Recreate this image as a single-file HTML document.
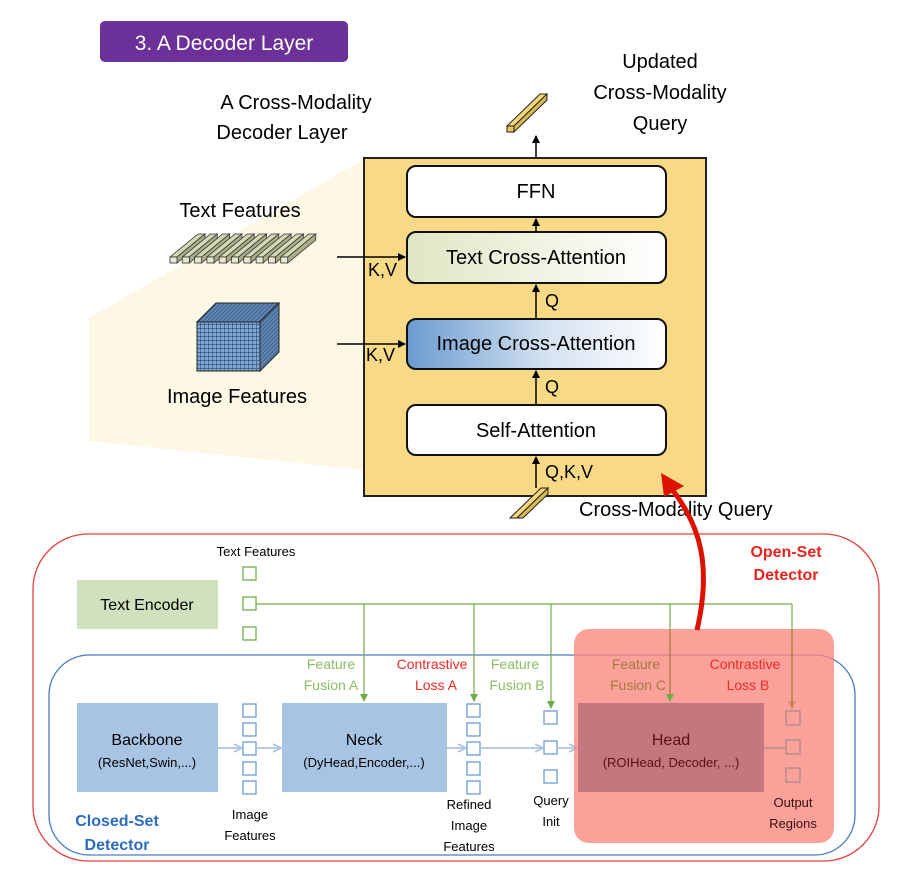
<!DOCTYPE html>
<html><head><meta charset="utf-8"><style>
body{margin:0;background:#fff;}
svg{display:block;font-family:"Liberation Sans",sans-serif;}
</style></head><body>
<svg width="912" height="876" viewBox="0 0 912 876" xmlns="http://www.w3.org/2000/svg">
<defs>
<linearGradient id="gt" x1="0" x2="1"><stop offset="0" stop-color="#dfe7c4"/><stop offset="1" stop-color="#fff"/></linearGradient>
<linearGradient id="gi" x1="0" x2="1"><stop offset="0" stop-color="#6a9bd0"/><stop offset="0.55" stop-color="#d6e3f1"/><stop offset="1" stop-color="#fff"/></linearGradient>
<pattern id="grid" width="4" height="4" patternUnits="userSpaceOnUse"><rect width="4" height="4" fill="#7ea7d6"/><path d="M0 0H4M0 0V4" stroke="#1f3550" stroke-width="1"/></pattern>
<pattern id="gridd" width="4" height="4" patternUnits="userSpaceOnUse" patternTransform="skewX(-45)"><rect width="4" height="4" fill="#5e86b4"/><path d="M0 0V4" stroke="#1f3550" stroke-width="1.2"/></pattern>
<marker id="ab" markerWidth="8" markerHeight="8" refX="7" refY="4" orient="auto" markerUnits="userSpaceOnUse"><path d="M0,0 L8,4 L0,8 z" fill="#000"/></marker>
<marker id="ag" markerWidth="8" markerHeight="8" refX="7" refY="4" orient="auto" markerUnits="userSpaceOnUse"><path d="M0,0 L8,4 L0,8 z" fill="#70ad47"/></marker>
<marker id="al" markerWidth="10" markerHeight="10" refX="9" refY="5" orient="auto" markerUnits="userSpaceOnUse"><path d="M1,1 L9,5 L1,9" fill="none" stroke="#a9c4e4" stroke-width="1.8"/></marker>
</defs>

<rect x="100" y="21" width="248" height="41" rx="5" fill="#6b3198"/>
<text x="224" y="50" font-size="21" fill="#fff" text-anchor="middle">3. A Decoder Layer</text>

<polygon points="89,318 364,159 364,470 89,441" fill="#fdf7e6"/>

<text x="296" y="109" font-size="20" text-anchor="middle">A Cross-Modality</text>
<text x="282" y="139" font-size="20" text-anchor="middle">Decoder Layer</text>
<text x="660" y="68" font-size="20" text-anchor="middle">Updated</text>
<text x="660" y="99" font-size="20" text-anchor="middle">Cross-Modality</text>
<text x="660" y="130" font-size="20" text-anchor="middle">Query</text>

<g stroke="#222" stroke-width="1" fill="#f3d77a">
<polygon points="507,126 540,94 547,94 514,126"/>
<polygon points="514,126 547,94 547,100 514,132" fill="#d9b950"/>
<rect x="507" y="126" width="7" height="6" fill="#e9c65a"/>
</g>
<line x1="536" y1="158" x2="536" y2="136" stroke="#000" stroke-width="1.5" marker-end="url(#ab)"/>

<rect x="364" y="158" width="342" height="338" fill="#f8da86" stroke="#222" stroke-width="2"/>
<rect x="407" y="166" width="259" height="51" rx="9" fill="#fff" stroke="#111" stroke-width="2"/>
<text x="536" y="198" font-size="20" text-anchor="middle">FFN</text>
<rect x="407" y="232" width="259" height="51" rx="9" fill="url(#gt)" stroke="#111" stroke-width="2"/>
<text x="536" y="264" font-size="20" text-anchor="middle">Text Cross-Attention</text>
<rect x="407" y="319" width="259" height="50" rx="9" fill="url(#gi)" stroke="#111" stroke-width="2"/>
<text x="536" y="350" font-size="20" text-anchor="middle">Image Cross-Attention</text>
<rect x="407" y="405" width="259" height="50" rx="9" fill="#fff" stroke="#111" stroke-width="2"/>
<text x="536" y="437" font-size="20" text-anchor="middle">Self-Attention</text>

<line x1="536" y1="232" x2="536" y2="219" stroke="#000" stroke-width="1.5" marker-end="url(#ab)"/>
<line x1="536" y1="319" x2="536" y2="285" stroke="#000" stroke-width="1.5" marker-end="url(#ab)"/>
<text x="545" y="307" font-size="18">Q</text>
<line x1="536" y1="405" x2="536" y2="371" stroke="#000" stroke-width="1.5" marker-end="url(#ab)"/>
<text x="545" y="393" font-size="18">Q</text>
<line x1="536" y1="488" x2="536" y2="457" stroke="#000" stroke-width="1.5" marker-end="url(#ab)"/>
<text x="545" y="478" font-size="18">Q,K,V</text>

<line x1="337" y1="257" x2="405" y2="257" stroke="#000" stroke-width="1.5" marker-end="url(#ab)"/>
<text x="368" y="276" font-size="18">K,V</text>
<line x1="337" y1="344" x2="405" y2="344" stroke="#000" stroke-width="1.5" marker-end="url(#ab)"/>
<text x="366" y="361" font-size="18">K,V</text>

<text x="240" y="217" font-size="20" text-anchor="middle">Text Features</text>
<g fill="#d4d8b4" stroke="#333" stroke-width="0.8">
<g id="tb"><polygon points="170,257 198,234 205,234 177,257"/><polygon points="177,257 205,234 205,240 177,263" fill="#a9ad88"/><rect x="170" y="257" width="7" height="6" fill="#e6e8d0"/></g>
<use href="#tb" x="12.3"/><use href="#tb" x="24.6"/><use href="#tb" x="36.9"/><use href="#tb" x="49.2"/><use href="#tb" x="61.5"/><use href="#tb" x="73.8"/><use href="#tb" x="86.1"/><use href="#tb" x="98.4"/><use href="#tb" x="110.7"/>
</g>

<polygon points="197,322 216,303 279,303 260,322" fill="url(#gridd)" stroke="#222"/>
<polygon points="260,322 279,303 279,352 260,371" fill="url(#gridd)" stroke="#222"/>
<rect x="197" y="322" width="63" height="49" fill="url(#grid)" stroke="#222"/>
<text x="237" y="403" font-size="20" text-anchor="middle">Image Features</text>

<g stroke="#222" stroke-width="1" fill="#f3d77a">
<polygon points="510,518 541,488 548,488 517,518"/>
<polygon points="517,518 548,488 548,494 523,518" fill="#d9b950"/>
</g>
<text x="579" y="516" font-size="20">Cross-Modality Query</text>

<rect x="33" y="534" width="846" height="327" rx="55" fill="none" stroke="#e8413b" stroke-width="1.3"/>
<text x="786" y="557" font-size="16" font-weight="bold" fill="#e8221c" text-anchor="middle">Open-Set</text>
<text x="786" y="580" font-size="16" font-weight="bold" fill="#e8221c" text-anchor="middle">Detector</text>

<rect x="49" y="655" width="806" height="200" rx="40" fill="none" stroke="#4a7cc0" stroke-width="1.3"/>
<text x="117" y="826" font-size="16" font-weight="bold" fill="#2c6cbf" text-anchor="middle">Closed-Set</text>
<text x="117" y="850" font-size="16" font-weight="bold" fill="#2c6cbf" text-anchor="middle">Detector</text>

<text x="256" y="556" font-size="13" text-anchor="middle">Text Features</text>
<rect x="77" y="580" width="141" height="49" fill="#cfe1bd"/>
<text x="147" y="610" font-size="16" text-anchor="middle">Text Encoder</text>
<g fill="#fff" stroke="#70ad47" stroke-width="1.3">
<rect x="243" y="567" width="13" height="13"/><rect x="243" y="597" width="13" height="13"/><rect x="243" y="627" width="13" height="13"/>
</g>
<g stroke="#70ad47" stroke-width="1.2" fill="none">
<line x1="256" y1="604" x2="792" y2="604"/>
<line x1="364" y1="604" x2="364" y2="701" marker-end="url(#ag)"/>
<line x1="474" y1="604" x2="474" y2="701" marker-end="url(#ag)"/>
<line x1="551" y1="604" x2="551" y2="708" marker-end="url(#ag)"/>
<line x1="670" y1="604" x2="670" y2="701" marker-end="url(#ag)"/>
<line x1="792" y1="604" x2="792" y2="708" marker-end="url(#ag)"/>
</g>

<text x="331" y="669" font-size="14" fill="#8cbc62" text-anchor="middle">Feature</text>
<text x="331" y="690" font-size="14" fill="#8cbc62" text-anchor="middle">Fusion A</text>
<text x="432" y="669" font-size="14" fill="#ee2a24" text-anchor="middle">Contrastive</text>
<text x="436" y="690" font-size="14" fill="#ee2a24" text-anchor="middle">Loss A</text>
<text x="515" y="669" font-size="14" fill="#8cbc62" text-anchor="middle">Feature</text>
<text x="517" y="690" font-size="14" fill="#8cbc62" text-anchor="middle">Fusion B</text>

<rect x="77" y="703" width="141" height="89" fill="#a7c4e3"/>
<text x="147" y="745" font-size="16" text-anchor="middle">Backbone</text>
<text x="147" y="767" font-size="13" text-anchor="middle">(ResNet,Swin,...)</text>
<rect x="282" y="703" width="165" height="89" fill="#a7c4e3"/>
<text x="364" y="745" font-size="16" text-anchor="middle">Neck</text>
<text x="364" y="767" font-size="13" text-anchor="middle">(DyHead,Encoder,...)</text>

<g fill="#fff" stroke="#6d9bd4" stroke-width="1.3">
<rect x="243" y="704" width="13" height="13"/><rect x="243" y="723" width="13" height="13"/><rect x="243" y="742" width="13" height="13"/><rect x="243" y="762" width="13" height="13"/><rect x="243" y="781" width="13" height="13"/>
<rect x="467" y="704" width="13" height="13"/><rect x="467" y="723" width="13" height="13"/><rect x="467" y="742" width="13" height="13"/><rect x="467" y="762" width="13" height="13"/><rect x="467" y="781" width="13" height="13"/>
<rect x="544" y="711" width="13" height="13"/><rect x="544" y="741" width="13" height="13"/><rect x="544" y="770" width="13" height="13"/>
</g>
<g stroke="#a9c4e4" stroke-width="1.8" fill="none">
<line x1="218" y1="748" x2="242" y2="748" marker-end="url(#al)"/>
<line x1="256" y1="748" x2="281" y2="748" marker-end="url(#al)"/>
<line x1="447" y1="748" x2="466" y2="748" marker-end="url(#al)"/>
<line x1="480" y1="748" x2="543" y2="748" marker-end="url(#al)"/>
<line x1="557" y1="748" x2="577" y2="748" marker-end="url(#al)"/>
</g>
<text x="250" y="819" font-size="13" text-anchor="middle">Image</text>
<text x="250" y="840" font-size="13" text-anchor="middle">Features</text>
<text x="469" y="809" font-size="13" text-anchor="middle">Refined</text>
<text x="469" y="830" font-size="13" text-anchor="middle">Image</text>
<text x="469" y="851" font-size="13" text-anchor="middle">Features</text>
<text x="551" y="805" font-size="13" text-anchor="middle">Query</text>
<text x="551" y="826" font-size="13" text-anchor="middle">Init</text>

<rect x="574" y="629" width="260" height="214" rx="15" fill="#f8877e" fill-opacity="0.78"/>
<rect x="578" y="703" width="186" height="89" fill="#c4777e"/>
<text x="671" y="745" font-size="16" fill="#5a1010" text-anchor="middle">Head</text>
<text x="671" y="767" font-size="13" fill="#5a1010" text-anchor="middle">(ROIHead, Decoder, ...)</text>
<g stroke="#a8888a" stroke-width="1.2" fill="none">
<line x1="670" y1="629" x2="670" y2="701" stroke="#a87a3a" marker-end="url(#ag)"/>
<line x1="792" y1="629" x2="792" y2="708" stroke="#a87a3a"/>
<rect x="786" y="711" width="14" height="14"/><rect x="786" y="740" width="14" height="14"/><rect x="786" y="768" width="14" height="14"/>
<line x1="764" y1="748" x2="785" y2="748"/>
</g>
<text x="636" y="669" font-size="14" fill="#a7783f" text-anchor="middle">Feature</text>
<text x="638" y="690" font-size="14" fill="#a7783f" text-anchor="middle">Fusion C</text>
<text x="745" y="669" font-size="14" fill="#ee2a24" text-anchor="middle">Contrastive</text>
<text x="748" y="690" font-size="14" fill="#ee2a24" text-anchor="middle">Loss B</text>
<text x="793" y="807" font-size="13" fill="#3a1010" text-anchor="middle">Output</text>
<text x="793" y="828" font-size="13" fill="#3a1010" text-anchor="middle">Regions</text>

<path d="M697,630 C712,565 700,525 671,488" fill="none" stroke="#dd1100" stroke-width="5"/>
<polygon points="661,473 684,486 664,497" fill="#dd1100"/>
</svg>
</body></html>
